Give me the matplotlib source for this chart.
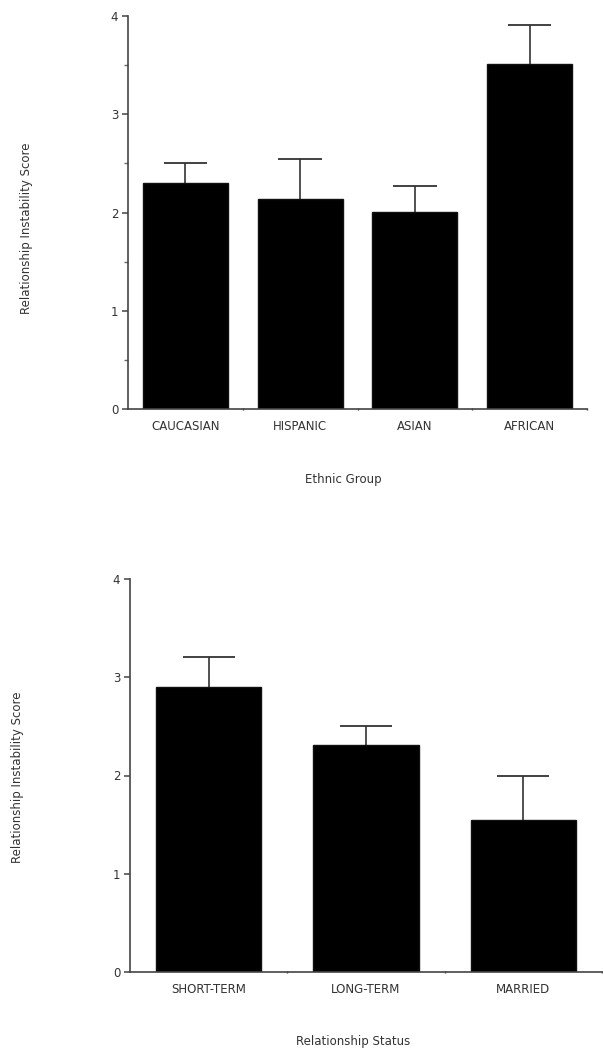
import matplotlib
matplotlib.use("Agg")
import matplotlib.pyplot as plt
import numpy as np

ethnic_groups = ["CAUCASIAN", "HISPANIC", "ASIAN", "AFRICAN"]
ethnic_means = [2.30, 2.14, 2.01, 3.51]
ethnic_err = [0.20, 0.40, 0.26, 0.40]

status_groups = ["SHORT-TERM", "LONG-TERM", "MARRIED"]
status_means = [2.90, 2.31, 1.55]
status_err = [0.31, 0.19, 0.45]

y_ticks = [0, 1, 2, 3, 4]
y_label = "Relationship Instability Score"

W, H = 603, 1050
fig = plt.figure(figsize=(W / 100, H / 100), dpi=100)
plt.rcParams['font.family'] = ['DejaVu Sans']
txt_color = "#333333"
fs = 8.5


def make_ax(left, right, top, bottom):
    return fig.add_axes([left / W, 1 - bottom / H, (right - left) / W, (bottom - top) / H])


def draw(ax, cats, means, errs, width, cap_half):
    x = np.arange(len(cats))
    means = np.asarray(means)
    errs = np.asarray(errs)
    ax.bar(x, means, width=width, color="black", edgecolor="#111111", linewidth=1.0, zorder=2)
    tops = means + errs
    ax.vlines(x, means, tops, colors="#333333", linewidth=1.2, zorder=1)
    ax.hlines(tops, x - cap_half, x + cap_half, colors="#333333", linewidth=1.3, zorder=1)
    ax.set_xlim(-0.5, len(cats) - 0.5)
    ax.set_ylim(0, 4)
    ax.set_yticks(y_ticks)
    ax.set_xticks(x)
    ax.set_xticklabels(cats)
    ax.set_xticks(np.arange(0.5, len(cats), 1.0), minor=True)
    for s in ["top", "right"]:
        ax.spines[s].set_visible(False)
    for s in ["left", "bottom"]:
        ax.spines[s].set_color("#444444")
        ax.spines[s].set_linewidth(1.2)
    ax.tick_params(axis="y", which="major", length=4, width=1.1, color="#444444",
                   labelsize=fs, labelcolor=txt_color, pad=3)
    ax.tick_params(axis="y", which="minor", length=3, width=1.0, color="#666666")
    ax.tick_params(axis="x", which="major", length=0, labelsize=fs, labelcolor=txt_color, pad=8)
    ax.tick_params(axis="x", which="minor", length=2, width=1.0, color="#444444", direction="inout")
    return ax


ax1 = make_ax(128, 587, 16, 409)
draw(ax1, ethnic_groups, ethnic_means, ethnic_err, 0.74, 0.19)
ax1.set_yticks(np.arange(0.5, 4, 1.0), minor=True)
ax2 = make_ax(130, 602, 579, 972)
draw(ax2, status_groups, status_means, status_err, 0.67, 0.165)

fig.text(27 / W, 1 - 228 / H, y_label, rotation=90, ha="center", va="center",
         fontsize=fs, color=txt_color)
fig.text(343 / W, 1 - 480 / H, "Ethnic Group", ha="center", va="center",
         fontsize=fs, color=txt_color)
fig.text(18 / W, 1 - 777 / H, y_label, rotation=90, ha="center", va="center",
         fontsize=fs, color=txt_color)
fig.text(353 / W, 1 - 1042 / H, "Relationship Status", ha="center", va="center",
         fontsize=fs, color=txt_color)

fig.savefig("out.png", dpi=100)
